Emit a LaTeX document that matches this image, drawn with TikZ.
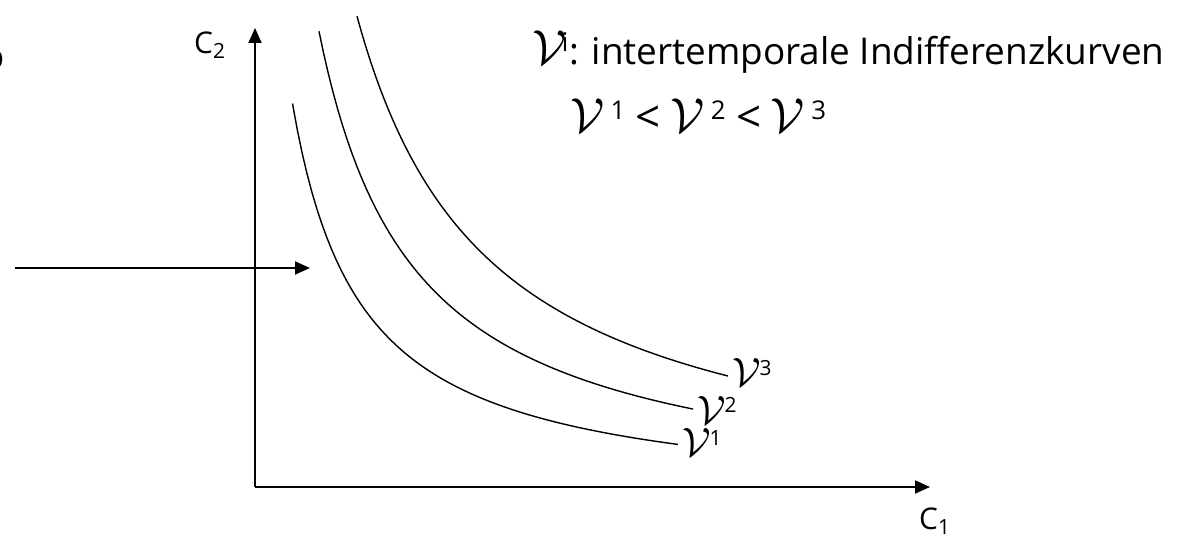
\documentclass[tikz,border=0pt]{standalone}
\usepackage{graphicx}
\usepackage{fontspec}
\setmainfont{Open Sans}
\usetikzlibrary{arrows.meta}

\newcommand{\Vcal}{\scalebox{1.35}{$\mathcal{V}$}}
\newcommand{\lessthan}{{\fontsize{25}{25}\selectfont <}}

\tikzset{
  axis/.style={line width=1.1pt, -{Triangle[length=0.3cm, width=0.26cm]}},
  indiff/.style={line width=0.8pt},
  big/.style={font=\fontsize{21}{24}\selectfont, inner sep=0pt},
  small/.style={font=\fontsize{17}{19}\selectfont, inner sep=0pt}
}

\begin{document}
\begin{tikzpicture}
    \useasboundingbox (0,0) rectangle (23.56,10.8);

    % Axes
    \coordinate (O) at (5.1,1.06);
    \coordinate (ytop) at (5.1,10.24);
    \coordinate (xend) at (18.6,1.06);
    \draw[axis] (O) -- (ytop);
    \draw[axis] (O) -- (xend);

    % Axis labels
    \node[small] (c2) at (4.2,9.9) {C\textsubscript{2}};
    \node[small] (c1) at (18.7,0.38) {C\textsubscript{1}};

    % Arrow from the left
    \node[big, anchor=base east] (cut) at (0.1,9.4) {o};
    \coordinate (from) at (0.3,5.44);
    \coordinate (to) at (6.2,5.44);
    \draw[axis] (from) -- (to);

    % Indifference curves
    \begin{scope}[shift={(O)}]
        \draw[indiff] plot[domain=0.75:8.46, samples=80] (\x, {11/(\x+0.62)-0.36});
        \draw[indiff] plot[domain=1.28:8.76, samples=80] (\x, {18/(\x+0.62)-0.36});
        \draw[indiff] plot[domain=2.04:9.46, samples=80] (\x, {26/(\x+0.62)-0.36});
    \end{scope}

    % Labels for curves
    \node[small, anchor=west] (v1) at (13.65,1.95) {\Vcal\kern-1pt\textsuperscript{1}};
    \node[small, anchor=west] (v2) at (13.95,2.6) {\Vcal\kern-1pt\textsuperscript{2}};
    \node[small, anchor=west] (v3) at (14.65,3.35) {\Vcal\kern-1pt\textsuperscript{3}};

    % Legend
    \node[big, anchor=base west] (title) at (10.65,9.5)
        {\Vcal\kern-3pt\textsuperscript{i}: intertemporale Indifferenzkurven};
    \node[big, anchor=base west] (order) at (11.4,8.15)
        {\Vcal\,\textsuperscript{1} \lessthan{} \Vcal\,\textsuperscript{2} \lessthan{} \Vcal\,\textsuperscript{3}};
\end{tikzpicture}
\end{document}
